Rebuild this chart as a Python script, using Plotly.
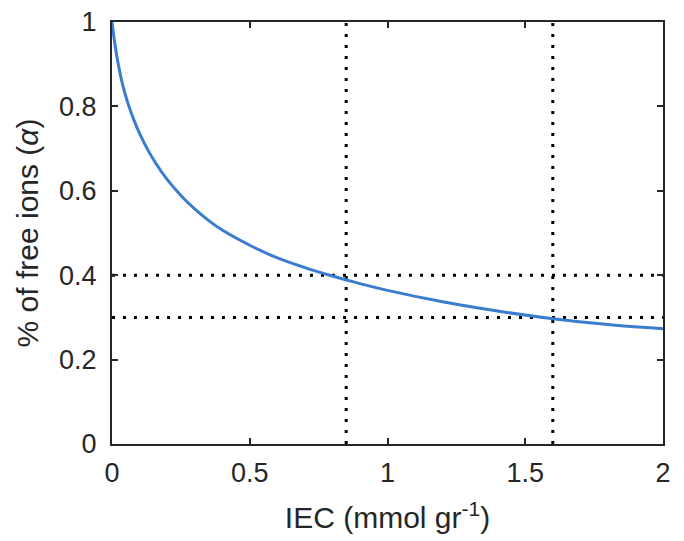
import plotly.graph_objects as go

# Data
iec = [0, 0.01, 0.02, 0.03, 0.04, 0.05, 0.06, 0.08, 0.10, 0.13, 0.16, 0.20,
       0.25, 0.30, 0.35, 0.40, 0.50, 0.60, 0.70, 0.80, 0.90, 1.00, 1.20,
       1.40, 1.60, 1.80, 2.00]
alpha = [1.0, 0.95, 0.91, 0.876, 0.848, 0.824, 0.803, 0.767, 0.736, 0.697,
         0.664, 0.627, 0.589, 0.557, 0.530, 0.507, 0.471, 0.441, 0.418, 0.398,
         0.380, 0.364, 0.337, 0.315, 0.297, 0.283, 0.273]

vlines_x = [0.85, 1.6]
hlines_y = [0.4, 0.3]

x_ticks = [0, 0.5, 1, 1.5, 2]
x_tick_text = ["0", "0.5", "1", "1.5", "2"]
y_ticks = [0, 0.2, 0.4, 0.6, 0.8, 1]
y_tick_text = ["0", "0.2", "0.4", "0.6", "0.8", "1"]

fig = go.Figure()

dot_style = dict(color="black", width=3, dash="3px,8px")
for xv in vlines_x:
    fig.add_trace(go.Scatter(x=[xv, xv], y=[0, 1], mode="lines", line=dot_style,
                             showlegend=False, hoverinfo="skip"))
for yv in hlines_y:
    fig.add_trace(go.Scatter(x=[0, 2], y=[yv, yv], mode="lines", line=dot_style,
                             showlegend=False, hoverinfo="skip"))

fig.add_trace(go.Scatter(x=iec, y=alpha, mode="lines",
                         line=dict(color="#3a7dce", width=3, shape="spline", smoothing=1.0),
                         showlegend=False))

font_family = "Liberation Sans, Arial, Helvetica, sans-serif"
axis_common = dict(
    showline=True, linecolor="#262626", linewidth=2, mirror="ticks",
    ticks="inside", ticklen=6, tickwidth=2, tickcolor="#262626",
    showgrid=False, zeroline=False,
    tickfont=dict(family=font_family, size=27, color="#262626"),
)

fig.update_layout(
    width=684, height=541,
    margin=dict(l=112, r=21, t=22, b=97, autoexpand=False),
    paper_bgcolor="white", plot_bgcolor="white",
    xaxis=dict(range=[0, 2], tickvals=x_ticks, ticktext=x_tick_text,
               ticklabelstandoff=4,
               title=dict(text="IEC (mmol gr<sup>-1</sup>)", standoff=20,
                          font=dict(family=font_family, size=30, color="#262626")),
               **axis_common),
    yaxis=dict(range=[0, 1], tickvals=y_ticks, ticktext=y_tick_text,
               ticklabelstandoff=8,
               title=dict(text="% of free ions (<i>α</i>)", standoff=12,
                          font=dict(family=font_family, size=30, color="#262626")),
               **axis_common),
)

fig.write_html("out.html", config={"displayModeBar": False},
               post_script="document.body.style.margin='0px';")
